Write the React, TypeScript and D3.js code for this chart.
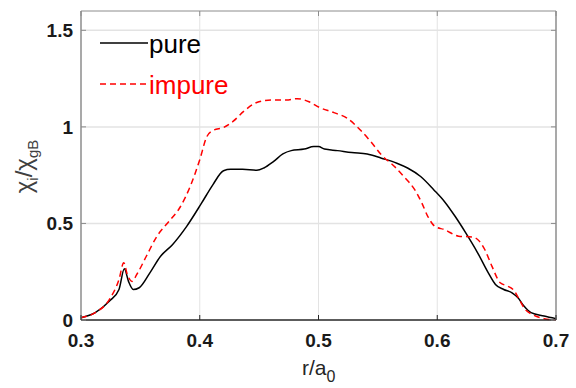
import * as d3 from 'd3';
import { useEffect, useRef } from 'react';

const WIDTH = 576;
const HEIGHT = 388;

// r/a0 positions and chi_i/chi_gB values
const pureR = [
    0.3, 0.312, 0.324, 0.332, 0.3365, 0.34, 0.344, 0.349, 0.358, 0.367, 0.377, 0.389, 0.4015, 0.411,
    0.42, 0.426, 0.436, 0.448, 0.454, 0.462, 0.47, 0.477, 0.488, 0.496, 0.5, 0.505, 0.516, 0.528,
    0.541, 0.553, 0.566, 0.575, 0.586, 0.597, 0.606, 0.615, 0.624, 0.634, 0.643, 0.649, 0.656, 0.663,
    0.668, 0.673, 0.679, 0.69, 0.7,
];
const pureChi = [
    0.012, 0.038, 0.098, 0.158, 0.265, 0.2, 0.158, 0.167, 0.244, 0.33, 0.39, 0.485, 0.605, 0.7,
    0.773, 0.78, 0.78, 0.775, 0.787, 0.82, 0.86, 0.877, 0.885, 0.898, 0.898, 0.885, 0.877, 0.867,
    0.86, 0.838, 0.812, 0.787, 0.743, 0.675, 0.614, 0.537, 0.451, 0.348, 0.244, 0.184, 0.158, 0.141,
    0.115, 0.072, 0.038, 0.021, 0.007,
];

const impureR = [
    0.3, 0.312, 0.324, 0.332, 0.336, 0.339, 0.343, 0.347, 0.355, 0.364, 0.374, 0.383, 0.392, 0.4,
    0.406, 0.411, 0.42, 0.428, 0.437, 0.448, 0.46, 0.473, 0.482, 0.492, 0.501, 0.513, 0.524, 0.535,
    0.544, 0.553, 0.564, 0.573, 0.581, 0.587, 0.592, 0.598, 0.606, 0.618, 0.629, 0.634, 0.64, 0.646,
    0.653, 0.659, 0.665, 0.669, 0.674, 0.68, 0.69, 0.7,
];
const impureChi = [
    0.012, 0.038, 0.107, 0.21, 0.296, 0.236, 0.2, 0.236, 0.33, 0.434, 0.51, 0.58, 0.692, 0.83,
    0.95, 0.981, 0.997, 1.028, 1.08, 1.126, 1.139, 1.139, 1.146, 1.13, 1.1, 1.074, 1.045, 0.985,
    0.924, 0.855, 0.795, 0.735, 0.675, 0.606, 0.537, 0.485, 0.468, 0.434, 0.43, 0.417, 0.365, 0.279,
    0.193, 0.176, 0.15, 0.107, 0.055, 0.029, 0.007, 0.0,
];

const xTicks = [0.3, 0.4, 0.5, 0.6, 0.7];
const yTicks = [0, 0.5, 1, 1.5];
const xTickLabels = ['0.3', '0.4', '0.5', '0.6', '0.7'];
const yTickLabels = ['0', '0.5', '1', '1.5'];

export default function App() {
    const svgRef = useRef<SVGSVGElement | null>(null);

    useEffect(() => {
        if (!svgRef.current) return;
        const svg = d3.select(svgRef.current);
        svg.selectAll('*').remove();

        const margin = { top: 11, right: 20, bottom: 68, left: 81 };
        const innerW = WIDTH - margin.left - margin.right;
        const innerH = HEIGHT - margin.top - margin.bottom;

        const x = d3.scaleLinear().domain([0.3, 0.7]).range([0, innerW]);
        const y = d3.scaleLinear().domain([0, 1.6]).range([innerH, 0]);

        const g = svg.append('g').attr('transform', `translate(${margin.left},${margin.top})`);

        g.append('rect').attr('width', innerW).attr('height', innerH).attr('fill', '#fff');

        // grid
        g.append('g')
            .selectAll('line')
            .data(xTicks.slice(1, -1))
            .join('line')
            .attr('x1', (d) => x(d))
            .attr('x2', (d) => x(d))
            .attr('y1', 0)
            .attr('y2', innerH)
            .attr('stroke', '#e3e3e3')
            .attr('stroke-width', 1);
        g.append('g')
            .selectAll('line')
            .data(yTicks.slice(1))
            .join('line')
            .attr('x1', 0)
            .attr('x2', innerW)
            .attr('y1', (d) => y(d))
            .attr('y2', (d) => y(d))
            .attr('stroke', '#e3e3e3')
            .attr('stroke-width', 1.5);

        const pure = pureR.map((r, i) => [r, pureChi[i]] as [number, number]);
        const impure = impureR.map((r, i) => [r, impureChi[i]] as [number, number]);

        const line = d3
            .line<[number, number]>()
            .x((d) => x(d[0]))
            .y((d) => y(d[1]))
            .curve(d3.curveMonotoneX);

        g.append('path')
            .datum(pure)
            .attr('fill', 'none')
            .attr('stroke', '#000')
            .attr('stroke-width', 1.5)
            .attr('d', line);

        g.append('path')
            .datum(impure)
            .attr('fill', 'none')
            .attr('stroke', '#ff0000')
            .attr('stroke-width', 1.5)
            .attr('stroke-dasharray', '6,4')
            .attr('d', line);

        // box
        const tickLen = 5;
        g.append('line').attr('x1', 0).attr('x2', innerW).attr('y1', 0).attr('y2', 0).attr('stroke', '#8c8c8c');
        g.append('line').attr('x1', innerW).attr('x2', innerW).attr('y1', 0).attr('y2', innerH).attr('stroke', '#8c8c8c').attr('stroke-width', 1.5);
        g.append('line').attr('x1', 0).attr('x2', 0).attr('y1', 0).attr('y2', innerH).attr('stroke', '#8c8c8c').attr('stroke-width', 1.5);
        g.append('line').attr('x1', 0).attr('x2', innerW).attr('y1', innerH).attr('y2', innerH).attr('stroke', '#262626').attr('stroke-width', 1.5);

        // ticks (inward, both sides)
        yTicks.forEach((t) => {
            g.append('line').attr('x1', 0).attr('x2', tickLen).attr('y1', y(t)).attr('y2', y(t)).attr('stroke', '#8c8c8c');
            g.append('line').attr('x1', innerW - tickLen).attr('x2', innerW).attr('y1', y(t)).attr('y2', y(t)).attr('stroke', '#8c8c8c');
        });
        xTicks.forEach((t) => {
            g.append('line').attr('x1', x(t)).attr('x2', x(t)).attr('y1', innerH).attr('y2', innerH - tickLen).attr('stroke', '#262626');
            g.append('line').attr('x1', x(t)).attr('x2', x(t)).attr('y1', 0).attr('y2', tickLen).attr('stroke', '#8c8c8c');
        });

        const font = 'Liberation Sans, Arial, sans-serif';

        g.append('g')
            .selectAll('text')
            .data(xTicks)
            .join('text')
            .attr('x', (d) => x(d))
            .attr('y', innerH + 27)
            .attr('text-anchor', 'middle')
            .attr('font-family', font)
            .attr('font-weight', 700)
            .attr('font-size', 19)
            .attr('fill', '#1a1a1a')
            .text((d, i) => xTickLabels[i]);

        g.append('g')
            .selectAll('text')
            .data(yTicks)
            .join('text')
            .attr('x', -8)
            .attr('y', (d) => y(d) + 7)
            .attr('text-anchor', 'end')
            .attr('font-family', font)
            .attr('font-weight', 700)
            .attr('font-size', 19)
            .attr('fill', '#1a1a1a')
            .text((d, i) => yTickLabels[i]);

        // x label
        const xl = svg
            .append('text')
            .attr('x', 302)
            .attr('y', 375)
            .attr('font-family', font)
            .attr('font-size', 21)
            .attr('fill', '#262626');
        xl.append('tspan').text('r/a');
        xl.append('tspan').attr('font-size', 16).attr('dy', 7).text('0');

        // y label
        const yl = svg
            .append('text')
            .attr('transform', `translate(32,${margin.top + y(0.8) + 1}) rotate(-90)`)
            .attr('text-anchor', 'middle')
            .attr('font-family', font)
            .attr('font-size', 24)
            .attr('fill', '#404040');
        yl.append('tspan').text('χ');
        yl.append('tspan').attr('font-size', 15).attr('dy', 6).text('i');
        yl.append('tspan').attr('dy', -6).text('/χ');
        yl.append('tspan').attr('font-size', 15).attr('dy', 6).text('gB');

        // legend
        const legend = [
            { name: 'pure', color: '#000', dash: null, y: 43 },
            { name: 'impure', color: '#ff0000', dash: '6,4', y: 84 },
        ];
        legend.forEach((l) => {
            svg.append('line')
                .attr('x1', 100)
                .attr('x2', 148)
                .attr('y1', l.y)
                .attr('y2', l.y)
                .attr('stroke', l.color)
                .attr('stroke-width', 1.5)
                .attr('stroke-dasharray', l.dash);
            svg.append('text')
                .attr('x', 149)
                .attr('y', l.y + 10)
                .attr('font-family', font)
                .attr('font-size', 26)
                .attr('fill', l.color)
                .text(l.name);
        });
    }, []);

    return (
        <svg
            ref={svgRef}
            width={WIDTH}
            height={HEIGHT}
            style={{ position: 'absolute', left: 0, top: 0, background: '#fff' }}
        />
    );
}
